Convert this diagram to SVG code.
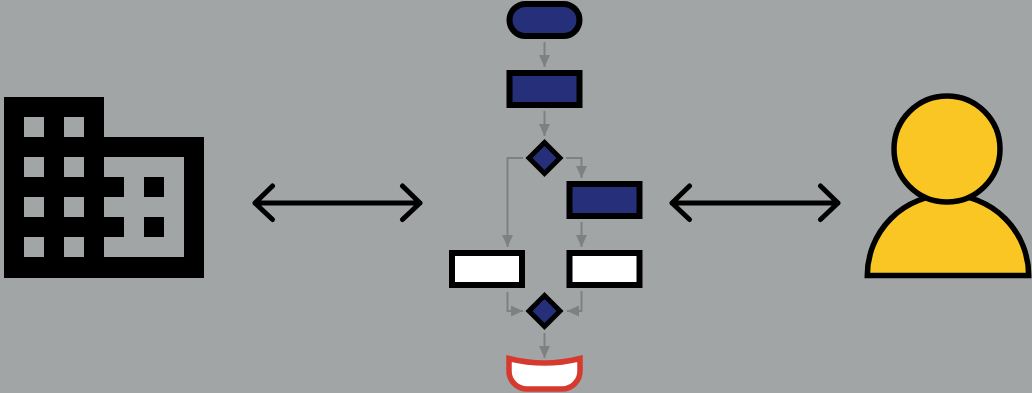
<svg xmlns="http://www.w3.org/2000/svg" width="1032" height="393" viewBox="0 0 1032 393">
<style>
.shape{stroke:#000;stroke-width:6}
.diamond{stroke:#000;stroke-width:5;fill:#262f7a}
.blue{fill:#262f7a}
.white{fill:#fff}
.flow{fill:none;stroke:#808080;stroke-width:2}
.big{fill:none;stroke:#000;stroke-width:5;stroke-linecap:round;stroke-linejoin:round}
</style>
<defs>
<marker id="head" viewBox="0 0 12 12" refX="12" refY="6" markerWidth="12" markerHeight="12" markerUnits="userSpaceOnUse" orient="auto"><path d="M0,0.500L12,6L0,11.500Z" fill="#808080"/></marker>
</defs>
<rect width="1032" height="393" fill="#a2a5a6"/>
<g id="building">
<path fill-rule="evenodd" d="M4,97H104V137H204V278H4Z M24,117V137H44V117Z M64,117V137H84V117Z M24,157V177H44V157Z M64,157V177H84V157Z M24,197V217H44V197Z M64,197V217H84V197Z M24,237V257H44V237Z M64,237V257H84V237Z M104,157V177H124V197H104V217H124V237H104V257H184V157Z"/>
<rect x="144" y="177" width="20" height="20"/>
<rect x="144" y="217" width="20" height="20"/>
</g>
<g id="person">
<path d="M867.300,275.500A80.700,80.700 0 0 1 1028.700,275.500Z" fill="#fac623" stroke="#000" stroke-width="5.500"/>
<circle cx="947" cy="149" r="53" fill="#fac623" stroke="#000" stroke-width="5.500"/>
</g>
<g id="connectors">
<path class="big" d="M255,203H420M272.500,186L255,203L272.500,219.500M402.500,186L420,203L402.500,219.500"/>
<path class="big" d="M672,203H838M689.500,186L672,203L689.500,219.500M820.500,186L838,203L820.500,219.500"/>
<path class="flow" marker-end="url(#head)" d="M544.500,42V67"/>
<path class="flow" marker-end="url(#head)" d="M544.500,111V136"/>
<path class="flow" marker-end="url(#head)" d="M523,158H507.500V247"/>
<path class="flow" marker-end="url(#head)" d="M566,158H581.500V178"/>
<path class="flow" marker-end="url(#head)" d="M581.500,222V247"/>
<path class="flow" marker-end="url(#head)" d="M507.500,292V311H523"/>
<path class="flow" marker-end="url(#head)" d="M581.500,291V311H567"/>
<path class="flow" marker-end="url(#head)" d="M544.500,333V358"/>
</g>
<g id="start"><rect class="shape blue" x="509.500" y="4" width="70" height="32" rx="16"/></g>
<g id="step1"><rect class="shape blue" x="509.500" y="73" width="70" height="32"/></g>
<g id="decision1"><path class="diamond" d="M544.500,142.500L560,158L544.500,173.500L529,158Z"/></g>
<g id="step2"><rect class="shape blue" x="569.500" y="184" width="70" height="32"/></g>
<g id="step3"><rect class="shape white" x="452" y="253" width="70" height="32"/></g>
<g id="step4"><rect class="shape white" x="569.500" y="253" width="70" height="32"/></g>
<g id="decision2"><path class="diamond" d="M544.500,295.500L560,311L544.500,326.500L529,311Z"/></g>
<g id="end"><path d="M509,358.500Q544.500,367.500 580,358.500V371A18,18 0 0 1 562,389H527A18,18 0 0 1 509,371Z" fill="#fff" stroke="#d63a2f" stroke-width="5.500"/></g>
</svg>
